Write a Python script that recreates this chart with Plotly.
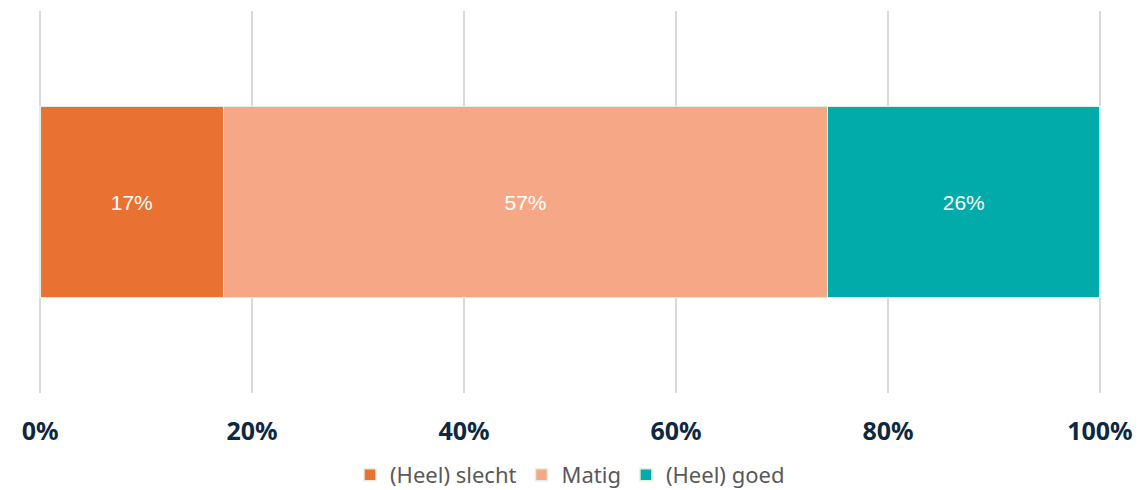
import plotly.graph_objects as go

categories = [""]
series_names = ["(Heel) slecht", "Matig", "(Heel) goed"]
series_values = [[17.3], [57.0], [25.7]]
label_texts = ["17%", "57%", "26%"]
colors = ["#E97132", "#F6A886", "#00ABA9"]
tick_vals = [0, 20, 40, 60, 80, 100]
tick_text = ["0%", "20%", "40%", "60%", "80%", "100%"]

fig = go.Figure()
for name, vals, txt, col in zip(series_names, series_values, label_texts, colors):
    fig.add_trace(go.Bar(
        y=categories, x=vals, name=name, orientation="h",
        marker=dict(color=col, line=dict(color="#E3EFE0", width=1.5)),
        text=[txt], textposition="inside", insidetextanchor="middle",
        textfont=dict(color="white", size=21, family="Liberation Sans"),
        width=0.5,
    ))

fig.update_layout(
    barmode="stack",
    width=1140, height=490,
    margin=dict(l=39, r=39, t=11, b=97, autoexpand=False),
    plot_bgcolor="white", paper_bgcolor="white",
    showlegend=True,
    legend=dict(orientation="h", x=0.5, xanchor="center",
                yref="container", y=1 - 475 / 490, yanchor="middle",
                font=dict(size=22, color="#595959", family="Noto Sans"),
                traceorder="normal", itemwidth=30),
    xaxis=dict(range=[-0.1, 100.1], tickvals=tick_vals, ticktext=tick_text,
               showgrid=True, gridcolor="#D9D9D9", gridwidth=2,
               zeroline=False, showline=False, automargin=False,
               ticks="outside", ticklen=16, tickcolor="rgba(0,0,0,0)",
               tickfont=dict(size=25, color="#0E2841", family="Noto Sans", weight="bold")),
    yaxis=dict(range=[-0.5, 0.5], showticklabels=False, showgrid=False,
               zeroline=False, automargin=False),
)

fig.write_html("out.html", config={"displayModeBar": False},
               post_script="document.body.style.margin='0';document.body.style.overflow='hidden';")
